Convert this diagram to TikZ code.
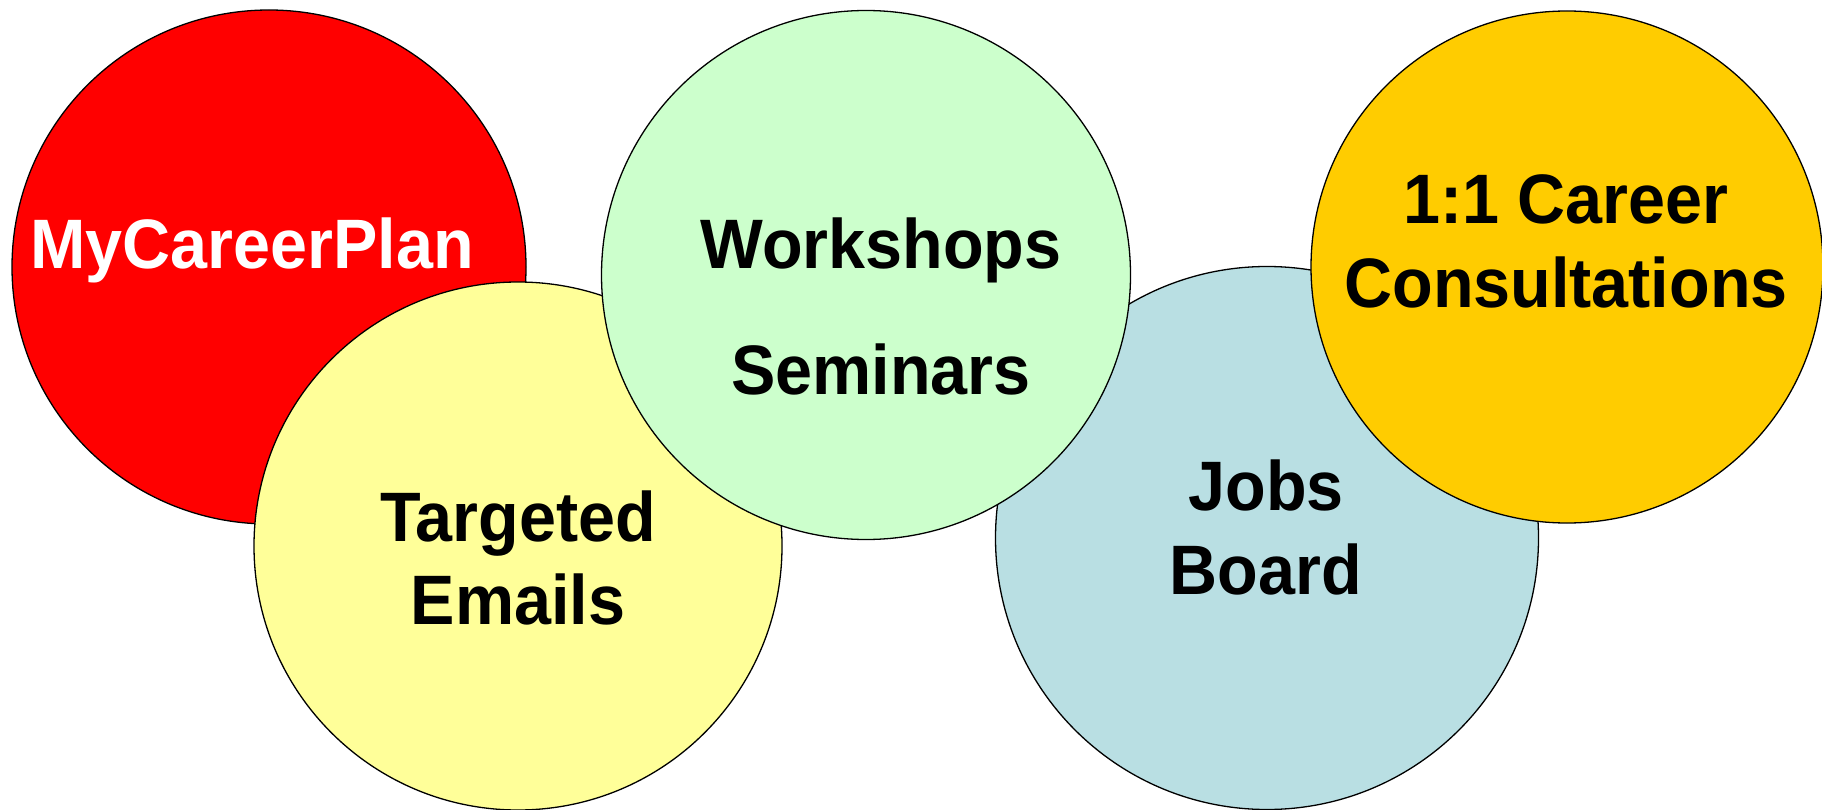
\documentclass[tikz,border=0pt]{standalone}
\usepackage{fontspec}
\setmainfont{Liberation Sans}
\newfontfamily\labfont{Liberation Sans}[FakeStretch=0.95]
\definecolor{cred}{HTML}{FF0000}
\definecolor{cyellow}{HTML}{FFFF99}
\definecolor{cgreen}{HTML}{CCFFCC}
\definecolor{cblue}{HTML}{B9DFE3}
\definecolor{corange}{HTML}{FFCC00}
\tikzset{
  bubble/.style={circle, draw=black, line width=1.3pt, inner sep=0pt},
  lab/.style={anchor=base, inner sep=0pt, font=\labfont\fontsize{70}{84}\selectfont\bfseries}
}
\begin{document}
\begin{tikzpicture}[x=1pt,y=-1pt]
\useasboundingbox (0,0) rectangle (1822,810);
\node[bubble, fill=cred, minimum size=514pt] (red) at (269,267) {};
\node[bubble, fill=cyellow, minimum size=528pt] (yellow) at (518,546) {};
\node[bubble, fill=cblue, minimum size=543pt] (blue) at (1267,538) {};
\node[bubble, fill=cgreen, minimum size=529pt] (green) at (866,275) {};
\node[bubble, fill=corange, minimum size=512pt] (orange) at (1567,267) {};
\node[lab, text=white] (t1) at (252,269) {MyCareerPlan};
\node[lab] (t2a) at (518,541) {Targeted};
\node[lab] (t2b) at (518,624) {Emails};
\node[lab] (t3a) at (881,269) {Workshops};
\node[lab] (t3b) at (881,394) {Seminars};
\node[lab] (t4a) at (1266,510) {Jobs};
\node[lab] (t4b) at (1266,594) {Board};
\node[lab] (t5a) at (1566,224) {1:1 Career};
\node[lab] (t5b) at (1566,307) {Consultations};
\end{tikzpicture}
\end{document}
